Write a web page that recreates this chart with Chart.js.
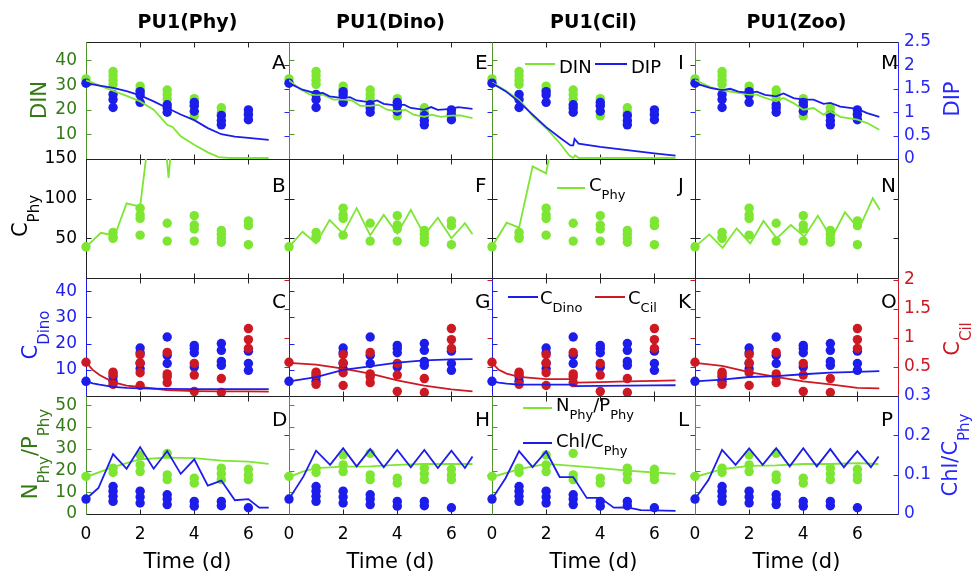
<!DOCTYPE html>
<html><head><meta charset="utf-8">
<script src="https://cdn.jsdelivr.net/npm/chart.js@4.4.1/dist/chart.umd.min.js"></script>
<style>
body{margin:0;background:#fff;}
#wrap{position:relative;width:972px;height:577px;overflow:hidden;background:#fff;font-family:"DejaVu Sans",sans-serif;}
canvas{position:absolute;left:0;top:0;}
.ttl{position:absolute;top:12px;transform:translateX(-50%);font-weight:bold;font-size:19px;line-height:1;white-space:nowrap;color:#000;}
.rot{position:absolute;transform:translate(-50%,-50%) rotate(-90deg);white-space:nowrap;font-size:21px;line-height:1;}
.s{font-size:15px;position:relative;top:12px;}
.let{position:absolute;font-size:20px;line-height:1;color:#000;}
.lg{position:absolute;font-size:18px;line-height:1;white-space:nowrap;color:#000;}
.ls{font-size:13px;position:relative;top:8px;}
.ll{position:absolute;height:2px;}
</style></head><body>
<div id="wrap">
<div id="firstText" class="ttl" style="left:187.5px">PU1(Phy)</div>
<div class="ttl" style="left:390.5px">PU1(Dino)</div>
<div class="ttl" style="left:593.5px">PU1(Cil)</div>
<div class="ttl" style="left:796.5px">PU1(Zoo)</div>

<div class="rot" style="left:39px;top:100px;color:rgb(52,122,20)">DIN</div>
<div class="rot" style="left:20px;top:216px;color:#000">C<span class="s">Phy</span></div>
<div class="rot" style="left:29.5px;top:335px;color:rgb(28,28,235)">C<span class="s">Dino</span></div>
<div class="rot" style="left:30px;top:454px;color:rgb(52,122,20)">N<span class="s">Phy</span>/P<span class="s">Phy</span></div>
<div class="rot" style="left:951.5px;top:99px;color:rgb(40,40,250)">DIP</div>
<div class="rot" style="left:951.5px;top:339px;color:rgb(205,25,35)">C<span class="s">Cil</span></div>
<div class="rot" style="left:949.5px;top:455px;color:rgb(40,40,250)">Chl/C<span class="s">Phy</span></div>

<div class="let" style="left:272px;top:52px">A</div>
<div class="let" style="left:272px;top:175px">B</div>
<div class="let" style="left:272px;top:291px">C</div>
<div class="let" style="left:272px;top:409px">D</div>
<div class="let" style="left:475px;top:52px">E</div>
<div class="let" style="left:475px;top:175px">F</div>
<div class="let" style="left:475px;top:291px">G</div>
<div class="let" style="left:475px;top:409px">H</div>
<div class="let" style="left:678px;top:52px">I</div>
<div class="let" style="left:678px;top:175px">J</div>
<div class="let" style="left:678px;top:291px">K</div>
<div class="let" style="left:678px;top:409px">L</div>
<div class="let" style="left:881px;top:52px">M</div>
<div class="let" style="left:881px;top:175px">N</div>
<div class="let" style="left:881px;top:291px">O</div>
<div class="let" style="left:881px;top:409px">P</div>

<div class="ll" style="left:525px;top:63px;width:30px;background:rgb(125,230,50)"></div>
<div class="lg" style="left:559px;top:58px">DIN</div>
<div class="ll" style="left:595px;top:63px;width:32px;background:rgb(28,28,235)"></div>
<div class="lg" style="left:631px;top:58px">DIP</div>

<div class="ll" style="left:557px;top:187px;width:28px;background:rgb(125,230,50)"></div>
<div class="lg" style="left:589px;top:176px">C<span class="ls">Phy</span></div>

<div class="ll" style="left:508px;top:296px;width:30px;background:rgb(28,28,235)"></div>
<div class="lg" style="left:540px;top:289px">C<span class="ls">Dino</span></div>
<div class="ll" style="left:595px;top:296px;width:30px;background:rgb(205,25,35)"></div>
<div class="lg" style="left:628px;top:289px">C<span class="ls">Cil</span></div>

<div class="ll" style="left:523px;top:407px;width:29px;background:rgb(125,230,50)"></div>
<div class="lg" style="left:556px;top:396px">N<span class="ls">Phy</span>/P<span class="ls">Phy</span></div>
<div class="ll" style="left:523px;top:442px;width:29px;background:rgb(28,28,235)"></div>
<div class="lg" style="left:556px;top:432px">Chl/C<span class="ls">Phy</span></div>
</div>
<script>
// ---------- tick labels ----------
const xTickVals = [0, 2, 4, 6];
const dinTicks = [10, 20, 30, 40];
const dipTicks = [0, 0.5, 1, 1.5, 2, 2.5];
const cphyTicks = [50, 100, 150];
const dinoTicks = [10, 20, 30, 40];
const cilTicks = [0.5, 1, 1.5, 2];
const npTicks = [0, 10, 20, 30, 40, 50];
const chlTicks = [0, 0.1, 0.2, 0.3];

// ---------- observations (days, values) ----------
const dinObsDay = [0,1,1,1,1,2,2,3,3,3,4,4,4,5,5,6,6];
const dinObsVal = [32.5,35.5,33.8,32,30.3,29.6,28.2,28,26.2,24.3,24.5,21.5,17.5,20.8,18.8,19,18];
const dipObsDay = [0,1,1,1,2,2,2,3,3,3,4,4,4,5,5,5,6,6,6];
const dipObsVal = [1.62,1.38,1.27,1.10,1.44,1.37,1.21,1.16,1.09,1.00,1.21,1.14,1.02,0.93,0.82,0.73,1.05,0.95,0.84];
const cphyObsDay = [0,1,1,1,2,2,2,2,3,3,4,4,4,4,5,5,5,5,6,6,6];
const cphyObsVal = [39.3,57.5,52,50,88,79.5,75,54,69,46.5,78.6,66.8,61.7,46.5,60,55,50,45,72,66,42];
const dinoObsDay = [0,1,1,2,2,2,2,3,3,3,4,4,4,4,5,5,5,5,6,6,6];
const dinoObsVal = [5.6,7.3,5.6,18.3,16.5,12.4,10.4,22.5,15.5,12.4,19.3,18.1,16.5,11.1,20,17.4,13.2,11.7,17.1,12.4,9.8];
const cilObsDay = [0,1,1,1,2,2,2,2,3,3,3,3,4,4,4,5,5,6,6,6];
const cilObsVal = [0.58,0.41,0.37,0.20,0.71,0.57,0.40,0.18,0.75,0.38,0.33,0.23,0.56,0.36,0.08,0.30,0.06,1.16,0.97,0.82];
const npObsDay = [0,1,1,2,2,2,3,3,3,4,4,5,5,5,6,6,6];
const npObsVal = [17.3,21.1,19.1,27.2,22.6,19.5,27.9,18,15.8,16.5,14.2,21.1,18.5,15.8,20.6,18,15.8];
const chlObsDay = [0,1,1,1,1,2,2,2,3,3,3,4,4,5,5,6];
const chlObsVal = [0.038,0.070,0.058,0.045,0.032,0.058,0.043,0.028,0.049,0.038,0.024,0.032,0.020,0.032,0.021,0.016];

// ---------- model lines: row 1 (DIN, DIP) ----------
const dinT_Phy = [0,0.5,1,1.5,2,2.5,3,3.2,3.5,4,4.5,4.9,5.3,6,6.75];
const dinV_Phy = [32,29.8,27.7,25.6,23.4,20.0,13.9,13.0,9.2,5.8,2.7,0.8,0.4,0.4,0.4];
const dipT_Phy = [0,0.5,1,1.5,2,2.5,3,3.5,4,4.5,5,5.5,6,6.75];
const dipV_Phy = [1.62,1.57,1.52,1.45,1.36,1.23,1.09,0.95,0.83,0.66,0.53,0.48,0.45,0.41];
const dinT_Dino = [0,0.4,0.78,1,1.27,1.64,2,2.32,2.63,3,3.3,3.62,4,4.3,4.6,5,5.28,5.6,6,6.33,6.78];
const dinV_Dino = [32,28.4,26.1,26,26,24.1,24.1,23.8,21.6,21.6,22,20,19.3,20,18,17.1,18,17.1,17.6,17.7,16.6];
const dipT_Dino = [0,0.5,1,1.25,1.5,2,2.25,2.5,3,3.25,3.5,4,4.25,4.5,5,5.25,5.5,6,6.25,6.78];
const dipV_Dino = [1.62,1.48,1.40,1.41,1.34,1.30,1.32,1.25,1.21,1.25,1.18,1.14,1.16,1.09,1.05,1.11,1.05,1.07,1.11,1.07];
const dinT_Cil = [0,0.5,1,1.25,1.5,2,2.5,2.85,3,3.07,3.2,4,5,6,6.78];
const dinV_Cil = [31,27.8,24,21,17.5,12.5,6.5,1.5,0.4,1.5,0.4,0.4,0.4,0.4,0.4];
const dipT_Cil = [0,0.5,1,1.5,2,2.5,2.9,3,3.05,3.2,4,5,6,6.78];
const dipV_Cil = [1.62,1.45,1.22,0.95,0.68,0.46,0.29,0.29,0.43,0.33,0.26,0.19,0.12,0.07];
const dinT_Zoo = [0,0.56,1,1.3,1.6,2,2.28,2.59,3,3.27,3.64,4,4.38,4.75,5,5.37,6,6.36,6.81];
const dinV_Zoo = [32.2,29.2,27.9,27.4,26.8,26.1,26.1,24.8,23.4,24.8,22.7,20,20.7,18,19.3,17.1,16,14.6,11.9];
const dipT_Zoo = [0,0.56,1,1.3,1.6,2,2.28,2.59,3,3.27,3.64,4,4.38,4.75,5,5.37,6,6.36,6.81];
const dipV_Zoo = [1.62,1.52,1.47,1.50,1.44,1.41,1.44,1.37,1.34,1.40,1.30,1.27,1.27,1.18,1.20,1.12,1.07,0.98,0.90];

// ---------- model lines: row 2 (C_Phy) ----------
const cphyT_Phy = [0,0.55,1,1.1,1.5,2,2.25,2.6,2.95,3.05,3.15,3.5,4,5,6,6.75];
const cphyV_Phy = [39,57,54,57,94,90,160,220,165,126,165,240,280,310,330,340];
const cphyT_Dino = [0,0.5,1,1.5,2,2.5,3,3.5,4,4.5,5,5.5,6,6.5,6.78];
const cphyV_Dino = [39.3,58.3,43.6,73,56,88,54,79.5,56,85.8,54,76,50,69,55];
const cphyT_Cil = [0,0.54,1,1.5,2,2.15,3,4,5,6,6.78];
const cphyV_Cil = [39.3,69.7,63.4,140.7,132,160,300,400,450,480,490];
const cphyT_Zoo = [0,0.53,1.02,1.54,2.04,2.53,3.02,3.54,4.04,4.54,5.04,5.54,6.05,6.57,6.83];
const cphyV_Zoo = [39.3,55,38,62.6,43.6,71.9,50,66.8,52,78.6,50,82.9,61.7,100.6,85.8];

// ---------- model lines: row 3 (C_Dino, C_Cil) ----------
const dinoT_Phy = [0,0.25,0.5,1,1.5,2,3,4,5,6,6.75];
const dinoV_Phy = [5.6,4.8,4.3,3.5,3.1,2.9,2.7,2.6,2.6,2.6,2.6];
const cilV_Phy = [0.58,0.45,0.36,0.24,0.18,0.155,0.10,0.085,0.08,0.08,0.075];
const dinoT_Dino = [0,1,2,3,4,5,6,6.78];
const dinoV_Dino = [5.6,7.2,10.0,11.3,12.7,13.6,14.0,14.1];
const cilV_Dino = [0.57,0.54,0.47,0.385,0.27,0.18,0.115,0.08];
const dinoT_Cil = [0,0.25,0.54,1,2,3,3.1,4,5,6,6.78];
const dinoV_Cil = [5.6,5.1,4.7,4.35,4.35,4.35,3.8,3.85,3.95,4.05,4.1];
const cilV_Cil = [0.57,0.45,0.385,0.33,0.29,0.29,0.23,0.24,0.25,0.26,0.27];
const dinoT_Zoo = [0,1,2,3,4,5,6,6.81];
const dinoV_Zoo = [5.6,6.25,7.25,7.6,8.3,8.9,9.2,9.5];
const cilV_Zoo = [0.57,0.52,0.41,0.33,0.25,0.20,0.14,0.13];

// ---------- model lines: row 4 (N/P, Chl/C) ----------
const npT_Phy = [0,1,2,3,4,5,6,6.75];
const npV_Phy = [17,21.6,25.2,25.9,25.7,24.6,24.1,23.1];
const chlT_Phy = [0,0.46,1,1.5,2,2.5,3,3.5,4,4.5,5,5.5,6,6.4,6.75];
const chlV_Phy = [0.038,0.066,0.152,0.115,0.170,0.115,0.160,0.102,0.139,0.072,0.085,0.035,0.038,0.016,0.016];
const npT_Dino = [0,0.5,1,2,3,4,5,6,6.78];
const npV_Dino = [17,19.5,21.1,21.8,21.9,22.6,23,23,23];
const chlT_Dino = [0,0.53,1,1.52,2,2.5,3,3.5,4,4.5,5,5.5,6,6.5,6.78];
const chlV_Dino = [0.038,0.095,0.161,0.125,0.167,0.121,0.165,0.119,0.163,0.119,0.163,0.117,0.161,0.117,0.146];
const npT_Cil = [0,1,2,3,4,5,6,6.78];
const npV_Cil = [17,20.6,23.1,22.1,21.1,20,19.1,18.5];
const chlT_Cil = [0,0.5,1,1.5,2,2.5,3,3.5,4,4.5,5,5.5,6,6.78];
const chlV_Cil = [0.038,0.091,0.160,0.119,0.159,0.094,0.094,0.041,0.041,0.016,0.017,0.010,0.009,0.008];
const npT_Zoo = [0,1,2,3,4,5,6,6.78];
const npV_Zoo = [17,20.6,22.1,22.4,23,23,23.4,23];
const chlT_Zoo = [0,0.5,1,1.5,2,2.5,3,3.5,4,4.5,5,5.5,6,6.5,6.78];
const chlV_Zoo = [0.038,0.087,0.163,0.125,0.167,0.125,0.167,0.121,0.167,0.121,0.165,0.119,0.160,0.119,0.146];

// ---------- styling / layout ----------
Chart.defaults.font.family = "'DejaVu Sans', sans-serif";
const W = 972, H = 577;
const X0 = [86, 289, 492, 695], X1 = [289, 492, 695, 898];
const Y0 = [42, 159, 278, 396], Y1 = [159, 278, 396, 514];
const WL = 60, WR = 50, HB = 63;
const LIME = 'rgb(125,230,50)', BLUE = 'rgb(28,28,235)', RED = 'rgb(205,25,35)';
const DKG = 'rgb(52,122,20)', AXB = 'rgb(40,40,250)', SPG = 'rgb(80,150,45)';

const ROWS = [
  {left:{min:0,max:47.5,ticks:dinTicks,color:DKG,spine:SPG}, right:{min:0,max:2.5,ticks:dipTicks,color:AXB,spine:AXB}},
  {left:{min:0,max:150,ticks:cphyTicks,color:'#000',spine:'#222'}, right:null},
  {left:{min:0,max:45,ticks:dinoTicks,color:BLUE,spine:BLUE}, right:{min:0,max:2.03,ticks:cilTicks,color:RED,spine:RED}},
  {left:{min:0,max:54.3,ticks:npTicks,color:DKG,spine:SPG}, right:{min:0,max:0.3,ticks:chlTicks,color:AXB,spine:AXB}}
];

function P(t, v){ return t.map((x,i)=>({x:x, y:v[i]})); }
function dots(d, v, color, axis, order){
  return {data:P(d,v), yAxisID:axis, showLine:false, pointRadius:4.7, pointHoverRadius:4.7,
    pointBorderWidth:0, pointBackgroundColor:color, backgroundColor:color, borderColor:color,
    order:order, clip:{left:8,right:8,top:8,bottom:0}};
}
function curve(t, v, color, axis, order){
  return {data:P(t,v), yAxisID:axis, showLine:true, pointRadius:0, borderColor:color,
    backgroundColor:color, borderWidth:1.8, tension:0, fill:false, order:order};
}

const MODEL = {
  Phy:{dinT:dinT_Phy,dinV:dinV_Phy,dipT:dipT_Phy,dipV:dipV_Phy,cphyT:cphyT_Phy,cphyV:cphyV_Phy,dinoT:dinoT_Phy,dinoV:dinoV_Phy,cilV:cilV_Phy,npT:npT_Phy,npV:npV_Phy,chlT:chlT_Phy,chlV:chlV_Phy},
  Dino:{dinT:dinT_Dino,dinV:dinV_Dino,dipT:dipT_Dino,dipV:dipV_Dino,cphyT:cphyT_Dino,cphyV:cphyV_Dino,dinoT:dinoT_Dino,dinoV:dinoV_Dino,cilV:cilV_Dino,npT:npT_Dino,npV:npV_Dino,chlT:chlT_Dino,chlV:chlV_Dino},
  Cil:{dinT:dinT_Cil,dinV:dinV_Cil,dipT:dipT_Cil,dipV:dipV_Cil,cphyT:cphyT_Cil,cphyV:cphyV_Cil,dinoT:dinoT_Cil,dinoV:dinoV_Cil,cilV:cilV_Cil,npT:npT_Cil,npV:npV_Cil,chlT:chlT_Cil,chlV:chlV_Cil},
  Zoo:{dinT:dinT_Zoo,dinV:dinV_Zoo,dipT:dipT_Zoo,dipV:dipV_Zoo,cphyT:cphyT_Zoo,cphyV:cphyV_Zoo,dinoT:dinoT_Zoo,dinoV:dinoV_Zoo,cilV:cilV_Zoo,npT:npT_Zoo,npV:npV_Zoo,chlT:chlT_Zoo,chlV:chlV_Zoo}
};
const COLS = ['Phy','Dino','Cil','Zoo'];

function datasetsFor(r, c){
  const m = MODEL[COLS[c]];
  if (r === 0) return [
    curve(m.dipT, m.dipV, BLUE, 'y2', 0),
    curve(m.dinT, m.dinV, LIME, 'y', 1),
    dots(dipObsDay, dipObsVal, BLUE, 'y2', 2),
    dots(dinObsDay, dinObsVal, LIME, 'y', 3)];
  if (r === 1) return [
    curve(m.cphyT, m.cphyV, LIME, 'y', 0),
    dots(cphyObsDay, cphyObsVal, LIME, 'y', 1)];
  if (r === 2) return [
    curve(m.dinoT, m.dinoV, BLUE, 'y', 0),
    curve(m.dinoT, m.cilV, RED, 'y2', 1),
    dots(cilObsDay, cilObsVal, RED, 'y2', 2),
    dots(dinoObsDay, dinoObsVal, BLUE, 'y', 3)];
  return [
    curve(m.chlT, m.chlV, BLUE, 'y2', 0),
    curve(m.npT, m.npV, LIME, 'y', 1),
    dots(chlObsDay, chlObsVal, BLUE, 'y2', 2),
    dots(npObsDay, npObsVal, LIME, 'y', 3)];
}

function framePlugin(r){
  const rc = ROWS[r];
  return {id:'frame', beforeDatasetsDraw(chart){
    const ctx = chart.ctx, a = chart.chartArea, s = chart.scales;
    const L = Math.round(a.left)+0.5, R = Math.round(a.right)+0.5, T = Math.round(a.top)+0.5, B = Math.round(a.bottom)+0.5;
    const seg = (x1,y1,x2,y2,col)=>{ctx.strokeStyle=col;ctx.beginPath();ctx.moveTo(x1,y1);ctx.lineTo(x2,y2);ctx.stroke();};
    ctx.save(); ctx.lineWidth = 1;
    xTickVals.forEach(v=>{const x=Math.round(s.x.getPixelForValue(v))+0.5; seg(x,T,x,T+5,'#222'); seg(x,B,x,B-5,'#222');});
    rc.left.ticks.forEach(v=>{const y=Math.round(s.y.getPixelForValue(v))+0.5; seg(L,y,L+5,y,rc.left.spine);});
    if (rc.right) rc.right.ticks.forEach(v=>{const y=Math.round(s.y2.getPixelForValue(v))+0.5; seg(R,y,R-5,y,rc.right.spine);});
    else rc.left.ticks.forEach(v=>{const y=Math.round(s.y.getPixelForValue(v))+0.5; seg(R,y,R-5,y,'#222');});
    seg(L,T,R,T,'#222'); seg(L,B,R,B,'#222');
    seg(R,T,R,B,rc.right ? rc.right.spine : '#222');
    seg(L,T,L,B,rc.left.spine);
    ctx.restore();
  }};
}

function mkChart(r, c){
  const cv = document.createElement('canvas');
  cv.width = W; cv.height = H; cv.style.width = W+'px'; cv.style.height = H+'px';
  const wrap = document.getElementById('wrap');
  wrap.insertBefore(cv, document.getElementById('firstText'));
  const rc = ROWS[r];
  const showL = c === 0, showR = c === 3 && !!rc.right, showB = r === 3;
  const pad = {left: showL ? X0[c]-WL : X0[c], right: showR ? W-X1[c]-WR : W-X1[c],
               top: Y0[r], bottom: showB ? H-Y1[r]-HB : H-Y1[r]};
  const scales = {
    x:{type:'linear', min:0, max:7.5, display:showB, position:'bottom',
       afterFit:s=>{s.height = showB ? HB : 0;}, afterBuildTicks:s=>{s.ticks=xTickVals.map(v=>({value:v}));},
       ticks:{color:'#000', font:{size:17}, padding:10, maxRotation:0, autoSkip:false, callback:v=>String(v)},
       grid:{display:false, drawTicks:false}, border:{display:false},
       title:{display:true, text:'Time (d)', color:'#000', font:{size:21}, padding:{top:0,bottom:2}}},
    y:{type:'linear', min:rc.left.min, max:rc.left.max, display:showL, position:'left',
       afterFit:s=>{s.width = showL ? WL : 0;}, afterBuildTicks:s=>{s.ticks=rc.left.ticks.map(v=>({value:v}));},
       ticks:{color:rc.left.color, font:{size:17}, padding:9, autoSkip:false, callback:v=>String(v)},
       grid:{display:false, drawTicks:false}, border:{display:false}}
  };
  if (rc.right) scales.y2 = {type:'linear', min:rc.right.min, max:rc.right.max, display:showR, position:'right',
       afterFit:s=>{s.width = showR ? WR : 0;}, afterBuildTicks:s=>{s.ticks=rc.right.ticks.map(v=>({value:v}));},
       ticks:{color:rc.right.color, font:{size:17}, padding:6, autoSkip:false, callback:v=>String(v)},
       grid:{display:false, drawTicks:false}, border:{display:false}};
  new Chart(cv, {
    type:'scatter',
    data:{datasets:datasetsFor(r,c)},
    options:{responsive:false, maintainAspectRatio:false, animation:false, devicePixelRatio:1, events:[],
      layout:{padding:pad}, scales:scales,
      plugins:{legend:{display:false}, tooltip:{enabled:false}, title:{display:false}}},
    plugins:[framePlugin(r)]
  });
}
for (let r=0; r<4; r++) for (let c=0; c<4; c++) mkChart(r, c);
</script>
</body></html>
